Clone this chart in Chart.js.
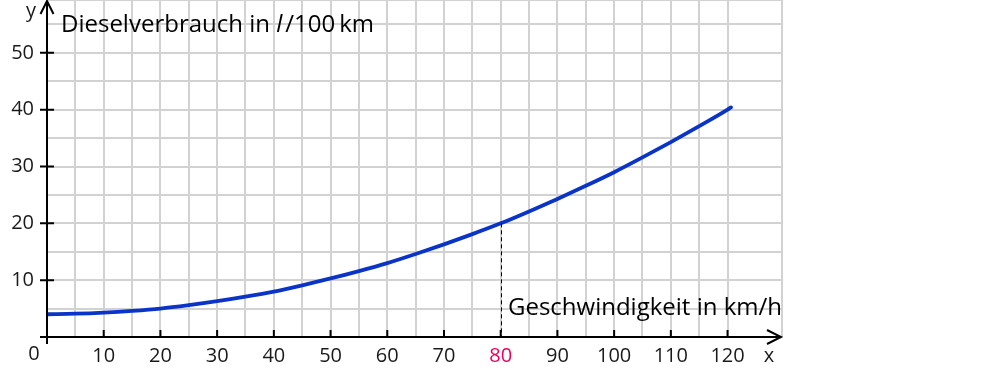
<!DOCTYPE html>
<html><head><meta charset="utf-8">
<script src="https://cdn.jsdelivr.net/npm/chart.js@4"></script>
<style>html,body{margin:0;padding:0;background:#fff}#wrap{width:1000px;height:370px;position:relative}</style>
</head><body><div id="wrap"><canvas id="c" width="1000" height="370"></canvas></div>
<script>
const speedX = [0,5,10,15,20,25,30,35,40,45,50,55,60,65,70,75,80,85,90,95,100,105,110,115,120,120.6];
const dieselY = [4.0,4.1,4.3,4.6,5.0,5.6,6.3,7.1,8.0,9.1,10.3,11.6,13.0,14.6,16.3,18.1,20.0,22.1,24.3,26.6,29.0,31.6,34.3,37.1,40.0,40.4];
const xTickLabels = [10,20,30,40,50,60,70,80,90,100,110,120];
const yTickLabels = [10,20,30,40,50];
const highlightX = 80;
const highlightY = 20;
const yTitle = ['Dieselverbrauch in ', 'l', '/100\u2009km'];
const xTitle = 'Geschwindigkeit in km/h';

const FONT = '"Open Sans", "Noto Sans", sans-serif';
const TICK_FONT = '20px ' + FONT;
const TITLE_SIZE = 24;

const axesPlugin = {
  id: 'axesPlugin',
  afterDatasetsDraw(chart) {
    const ctx = chart.ctx;
    const xs = chart.scales.x, ys = chart.scales.y;
    const x0 = xs.getPixelForValue(0), y0 = ys.getPixelForValue(0);
    const area = chart.chartArea;
    ctx.save();
    // dashed helper line
    ctx.strokeStyle = '#000';
    ctx.lineWidth = 1;
    ctx.setLineDash([4,3]);
    const hx = Math.round(xs.getPixelForValue(highlightX)) + 0.5;
    ctx.beginPath();
    ctx.moveTo(hx, ys.getPixelForValue(highlightY));
    ctx.lineTo(hx, y0);
    ctx.stroke();
    ctx.setLineDash([]);
    // axes
    ctx.lineWidth = 2;
    ctx.beginPath();
    ctx.moveTo(x0 - 7, y0); ctx.lineTo(area.right - 1, y0);
    ctx.moveTo(x0, y0 + 7); ctx.lineTo(x0, area.top + 1);
    ctx.stroke();
    // arrowheads
    ctx.beginPath();
    ctx.moveTo(area.right - 15, y0 - 7); ctx.lineTo(area.right - 1, y0); ctx.lineTo(area.right - 15, y0 + 7);
    ctx.moveTo(x0 - 6.5, area.top + 14); ctx.lineTo(x0, area.top + 1); ctx.lineTo(x0 + 6.5, area.top + 14);
    ctx.stroke();
    // ticks
    ctx.beginPath();
    xTickLabels.forEach(v => { const px = xs.getPixelForValue(v); ctx.moveTo(px, y0 - 7); ctx.lineTo(px, y0); });
    yTickLabels.forEach(v => { const py = ys.getPixelForValue(v); ctx.moveTo(x0 - 7, py); ctx.lineTo(x0 + 7, py); });
    ctx.stroke();
    // tick labels
    ctx.font = TICK_FONT;
    ctx.fillStyle = '#1a1a1a';
    ctx.textBaseline = 'middle';
    ctx.textAlign = 'center';
    xTickLabels.forEach(v => {
      const px = xs.getPixelForValue(v);
      ctx.save();
      if (v === highlightX) ctx.fillStyle = '#e8005e';
      ctx.fillText(String(v), px, y0 + 19);
      ctx.restore();
    });
    ctx.textAlign = 'right';
    yTickLabels.forEach(v => ctx.fillText(String(v), x0 - 13, ys.getPixelForValue(v)));
    ctx.textAlign = 'center';
    ctx.fillText('0', x0 - 13, y0 + 17);
    ctx.fillText('x', area.right - 13, y0 + 19);
    ctx.fillText('y', x0 - 16, area.top + 11);
    // titles
    ctx.font = TITLE_SIZE + 'px ' + FONT;
    ctx.fillStyle = '#000';
    ctx.textAlign = 'left';
    ctx.textBaseline = 'alphabetic';
    let tx = x0 + 14;
    const ty = area.top + 32;
    ctx.fillText(yTitle[0], tx, ty); tx += ctx.measureText(yTitle[0]).width;
    ctx.font = 'italic ' + TITLE_SIZE + 'px ' + FONT;
    ctx.fillText(yTitle[1], tx, ty); tx += ctx.measureText(yTitle[1]).width + 3;
    ctx.font = TITLE_SIZE + 'px ' + FONT;
    ctx.fillText(yTitle[2], tx, ty);
    ctx.textAlign = 'right';
    ctx.fillText(xTitle, area.right, y0 - 22);
    ctx.restore();
  }
};

new Chart(document.getElementById('c'), {
  type: 'line',
  data: {
    datasets: [{
      data: speedX.map((x, i) => ({x, y: dieselY[i]})),
      borderColor: '#0a33c8',
      borderWidth: 3.8,
      pointRadius: 0,
      fill: false,
      cubicInterpolationMode: 'monotone',
      borderCapStyle: 'round'
    }]
  },
  options: {
    responsive: false,
    animation: false,
    events: [],
    layout: { padding: { left: 47, right: 218, top: 0, bottom: 33 } },
    plugins: { legend: { display: false }, tooltip: { enabled: false } },
    scales: {
      x: {
        type: 'linear', min: 0, max: 129.6,
        ticks: { display: false, stepSize: 5 },
        grid: { color: '#d2d2d2', lineWidth: 2, drawTicks: false },
        border: { display: false }
      },
      y: {
        type: 'linear', min: 0, max: 59.3,
        ticks: { display: false, stepSize: 5 },
        grid: { color: '#d2d2d2', lineWidth: 2, drawTicks: false },
        border: { display: false }
      }
    }
  },
  plugins: [axesPlugin]
});
</script></body></html>
